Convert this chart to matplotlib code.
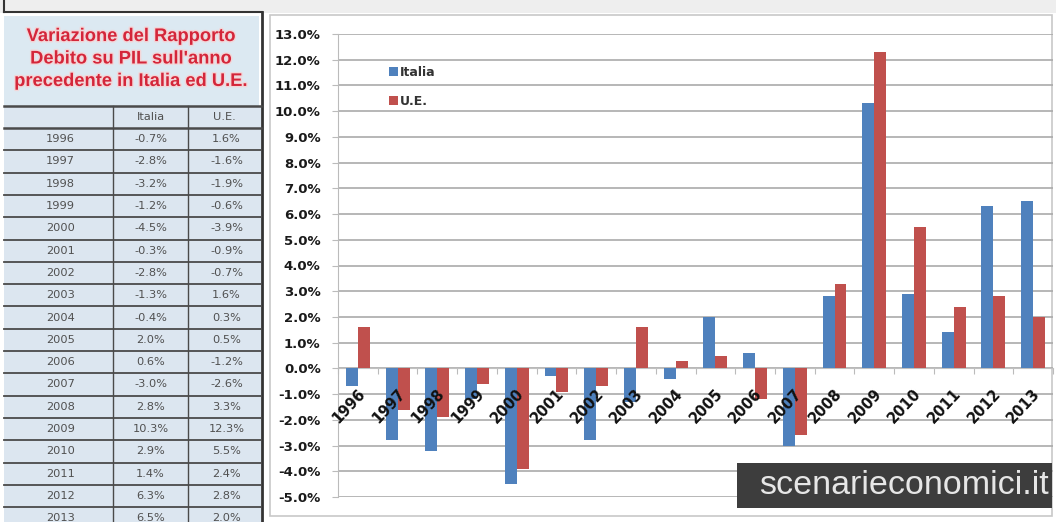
import matplotlib
matplotlib.use("Agg")
import matplotlib.pyplot as plt
import matplotlib.patheffects as pe
from matplotlib.patches import Rectangle
import numpy as np

years = ['1996', '1997', '1998', '1999', '2000', '2001', '2002', '2003', '2004',
         '2005', '2006', '2007', '2008', '2009', '2010', '2011', '2012', '2013']
italia = [-0.7, -2.8, -3.2, -1.2, -4.5, -0.3, -2.8, -1.3, -0.4,
          2.0, 0.6, -3.0, 2.8, 10.3, 2.9, 1.4, 6.3, 6.5]
ue = [1.6, -1.6, -1.9, -0.6, -3.9, -0.9, -0.7, 1.6, 0.3,
      0.5, -1.2, -2.6, 3.3, 12.3, 5.5, 2.4, 2.8, 2.0]
series_names = ['Italia', 'U.E.']
y_ticks = np.arange(-5, 14, 1)
title_text = "Variazione del Rapporto\nDebito su PIL sull'anno\nprecedente in Italia ed U.E."
watermark = 'scenarieconomici.it'

BLUE = '#4f81bd'
RED = '#c0504d'
W, H = 1056, 522

fig = plt.figure(figsize=(W / 100, H / 100), dpi=100)
fig.patch.set_facecolor('white')

# background: grey strip on top + chart frame, pixel coordinates
bg = fig.add_axes([0, 0, 1, 1])
bg.set_xlim(0, W)
bg.set_ylim(H, 0)
bg.axis('off')
bg.add_patch(Rectangle((0, 0), W, 13, facecolor='#eeeeee', edgecolor='none'))
bg.add_patch(Rectangle((270, 15), 782, 501, facecolor='white', edgecolor='#c8c8c8', lw=1.2))

# ---- table on the left ----
tb = fig.add_axes([0, 0, 264 / W, 1])
tb.set_xlim(0, 264)
tb.set_ylim(H, 0)
tb.axis('off')
tb.plot([4, 262], [12, 12], color='#333333', lw=1.5)
tb.plot([4, 4], [0, 12], color='#333333', lw=1.5)
tb.plot([262, 262], [12, H], color='#333333', lw=2)
tb.add_patch(Rectangle((4, 16), 255, 90, facecolor='#dce9f2', edgecolor='none'))
tb.text(131, 59, title_text, ha='center', va='center', color='#d4263a',
        fontsize=13.2, fontweight='bold', linespacing=1.42, family='Liberation Sans',
        path_effects=[pe.withStroke(linewidth=2, foreground='#f3d6d8')])

head_top = 106
head_h = 22
row_h = 22.3
col_x = [4, 113, 188, 261]
tb.add_patch(Rectangle((4, head_top), 257, H - head_top, facecolor='#dce6f0', edgecolor='none'))
lines_y = [head_top, head_top + head_h] + [head_top + head_h + (r + 1) * row_h for r in range(len(years))]
for k, y in enumerate(lines_y):
    tb.plot([4, 261], [y, y], color='#4a4a4a', lw=1.8 if k < 2 else 1.3)
for cx in col_x[1:3]:
    tb.plot([cx, cx], [head_top, H], color='#4a4a4a', lw=1.0)

txt_kw = dict(ha='center', va='center', color='#505050', fontsize=8.2, family='DejaVu Sans')
hc = head_top + head_h / 2
tb.text((col_x[1] + col_x[2]) / 2, hc, series_names[0], **txt_kw)
tb.text((col_x[2] + col_x[3]) / 2, hc, series_names[1], **txt_kw)
for i, yr in enumerate(years):
    yc = head_top + head_h + (i + 0.5) * row_h
    tb.text((col_x[0] + col_x[1]) / 2 + 2, yc, yr, **txt_kw)
    tb.text((col_x[1] + col_x[2]) / 2, yc, f'{italia[i]:.1f}%', **txt_kw)
    tb.text((col_x[2] + col_x[3]) / 2 + 2, yc, f'{ue[i]:.1f}%', **txt_kw)

# ---- bar chart ----
ax = fig.add_axes([338 / W, (H - 497) / H, (1053 - 338) / W, (497 - 34) / H])
ax.patch.set_alpha(0)
x = np.arange(len(years))
bw = 0.30
ax.bar(x - bw / 2, italia, bw, color=BLUE, label=series_names[0], zorder=3)
ax.bar(x + bw / 2, ue, bw, color=RED, label=series_names[1], zorder=3)

ax.set_ylim(-5, 13)
ax.set_xlim(-0.5, len(years) - 0.5)
ax.set_yticks(y_ticks)
ax.set_yticklabels([f'{v:.1f}%' for v in y_ticks], fontsize=9.5, fontweight='bold', color='#1a1a1a')
ax.yaxis.grid(True, color='#aaaaaa', lw=1.2, zorder=0)
ax.set_xticks(np.arange(len(years) + 1) - 0.5)
ax.set_xticklabels([])
ax.tick_params(axis='x', length=4, color='#bbbbbb', direction='out')
for s in ['top', 'right']:
    ax.spines[s].set_visible(False)
ax.spines['bottom'].set_position(('data', 0))
ax.spines['bottom'].set_color('#c0c0c0')
ax.spines['bottom'].set_zorder(2)
ax.spines['left'].set_color('#bbbbbb')
ax.tick_params(axis='y', length=4, color='#bbbbbb', pad=8.5)

for i, yr in enumerate(years):
    ax.text(i - 0.02, -0.68, yr, rotation=47, rotation_mode='anchor', ha='right', va='top',
            fontsize=10.5, fontweight='bold', color='#111111', zorder=4)

leg = ax.legend(loc='upper left', bbox_to_anchor=(0.055, 0.955), frameon=False, fontsize=9,
                handlelength=0.75, handleheight=0.75, handletextpad=0.15, labelspacing=1.25)
for t in leg.get_texts():
    t.set_fontweight('bold')
    t.set_color('#333333')

# watermark box
wm = fig.add_axes([0, 0, 1, 1], facecolor='none')
wm.set_xlim(0, W)
wm.set_ylim(H, 0)
wm.axis('off')
wm.add_patch(Rectangle((737, 463), 315, 45, facecolor='#3d3d3d', edgecolor='none'))
wm.text(1049, 494, watermark, ha='right', va='baseline', color='#e6e6e6', fontsize=24.5,
        family='Liberation Sans')

fig.savefig('out.png', dpi=100)
